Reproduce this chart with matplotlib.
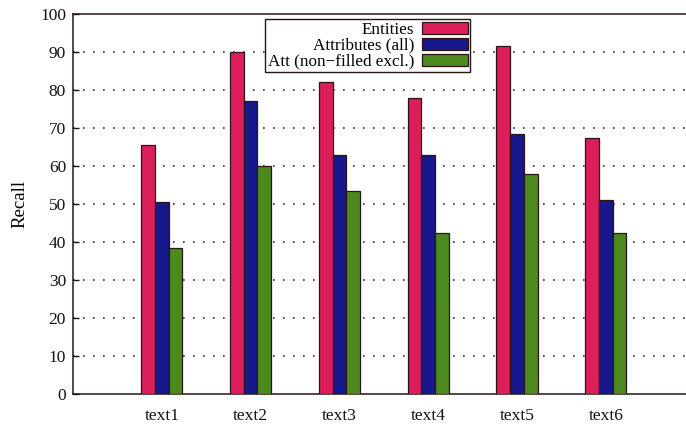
import numpy as np
import matplotlib.pyplot as plt

# Valores
textos = ['text1', 'text2', 'text3', 'text4', 'text5', 'text6']
entidades = [65.5, 90, 82, 78, 91.5, 67.5]
atributos = [50.5, 77, 63, 63, 68.5, 51]
att_no_relleno = [38.5, 60, 53.5, 42.5, 58, 42.5]
series = ['Entities', 'Attributes (all)', 'Att (non\u2212filled excl.)']
colores = ['#dc1f5a', '#17188c', '#4d8a1e']

plt.rcParams['font.family'] = ['Liberation Serif', 'DejaVu Serif']

fig = plt.figure(figsize=(6.86, 4.26), dpi=100)
ax = fig.add_axes([73 / 686, 1 - 394 / 426, 621.6 / 686, 380 / 426])

x = np.arange(1, len(textos) + 1)
ancho = 0.155
borde = '#2a1414'
for i, (datos, nombre, color) in enumerate(zip([entidades, atributos, att_no_relleno], series, colores)):
    ax.bar(x + (i - 1) * ancho, datos, ancho, color=color, edgecolor=borde,
           linewidth=0.9, label=nombre, zorder=3)

ax.set_xlim(0, 7)
ax.set_ylim(0, 100)
ax.set_yticks(range(0, 101, 10))
ax.set_xticks(x)
ax.set_xticklabels(textos)
ax.tick_params(axis='x', length=0, pad=10, labelsize=12.5, colors='#1a1010')
ax.tick_params(axis='y', direction='in', length=4, right=True, width=1,
               labelsize=12.5, pad=5, colors='#1a1010')
ax.set_ylabel('Recall', fontsize=13.5, labelpad=8)

# Cuadricula punteada
for v in range(10, 100, 10):
    ax.axhline(v, color='#333333', linestyle=(0, (1, 5)), linewidth=1.2, zorder=1)

for s in ax.spines.values():
    s.set_color('#2a1414')
    s.set_linewidth(1.1)

leg = ax.legend(loc='upper left', bbox_to_anchor=(265 / 686, 1 - 19 / 426),
                bbox_transform=fig.transFigure, markerfirst=False, fancybox=False,
                framealpha=1, edgecolor='#2a1414', fontsize=12.3, labelspacing=0.0,
                handlelength=2.7, handleheight=0.7, handletextpad=0.45,
                borderpad=0.15, borderaxespad=0)
leg.get_frame().set_linewidth(1.0)

plt.savefig('out.png', dpi=100)
